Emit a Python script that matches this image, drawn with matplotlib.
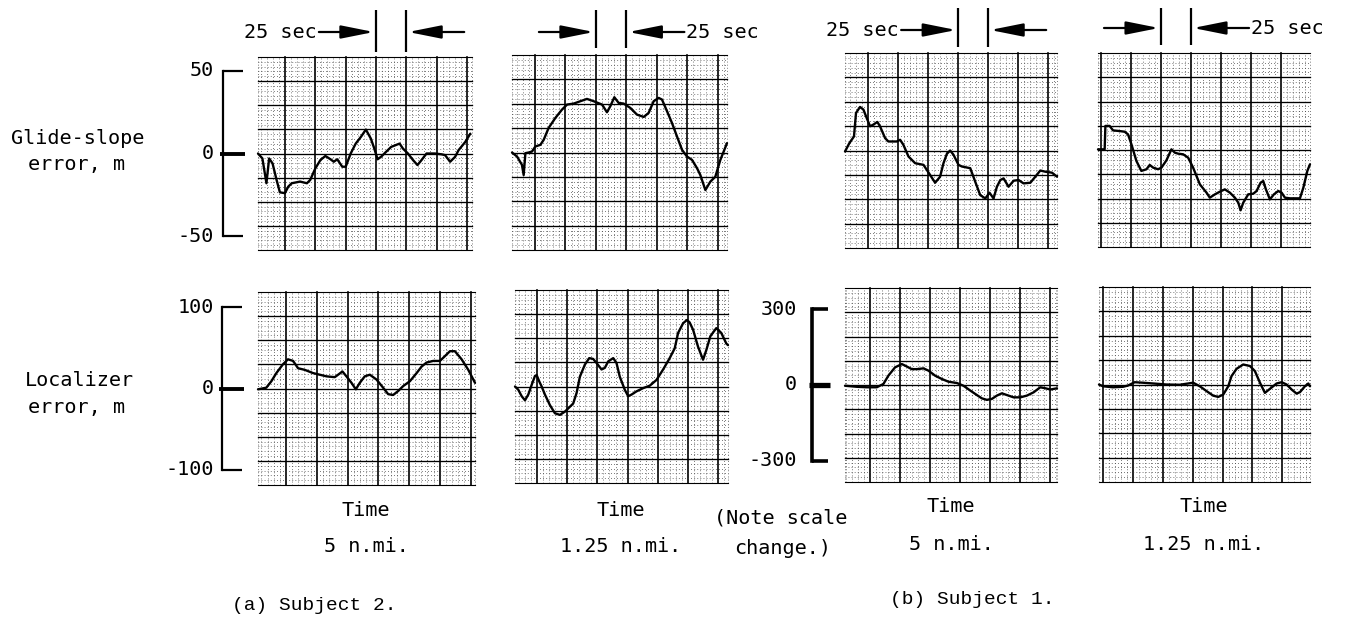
import matplotlib
matplotlib.use("Agg")
import matplotlib.pyplot as plt
import matplotlib.transforms as mtransforms
from matplotlib.patches import FancyArrowPatch, ArrowStyle
import numpy as np

# ---------------- data (time in s, error in m) ----------------
# (a) Subject 2 - glide-slope error, 5 n.mi.
gs_s2_5nmi_t = [0, 3.6, 6.9, 9.1, 11.9, 15.2, 17.9, 22.0, 24.8, 27.6, 34.4, 40.0, 42.7, 46.9, 51.0,
                55.1, 59.3, 62.0, 64.8, 68.9, 71.7, 75.8, 79.9, 84.1, 88.2, 92.3, 95.1, 97.8, 100.6,
                104.7, 108.9, 115.8, 118.5, 122.6, 126.8, 130.4, 133.7, 137.8, 144.7, 150.2, 153.0,
                157.1, 161.2, 164.0, 169.5, 173.6]
gs_s2_5nmi_m = [0, -3, -18, -3, -6, -16, -23.5, -24, -20, -18, -17, -18, -16, -9, -4,
                -1.5, -3.5, -5, -3.5, -8, -8, 0, 6, 10, 14.5, 9, 3, -3.5, -2,
                1, 4, 6, 3, 0, -4, -7, -4, 0, 0, -0.5, -1,
                -5, -2, 2, 7, 12]
# (a) Subject 2 - glide-slope error, 1.25 n.mi.
gs_s2_125nmi_t = [0, 4.1, 8.1, 9.5, 10.9, 13.6, 16.3, 19.0, 23.1, 25.8, 29.8, 35.3, 40.7, 44.8, 50.2,
                  55.6, 61.0, 66.5, 73.3, 77.3, 80.0, 83.3, 86.8, 90.9, 96.3, 101.7, 107.2, 111.2,
                  115.3, 119.4, 122.1, 126.2, 130.2, 134.3, 138.4, 142.4, 146.5, 150.6, 153.3,
                  157.4, 161.4, 165.5, 169.6, 175]
gs_s2_125nmi_m = [0, -2.4, -7.4, -13.5, -0.4, 0, 0.6, 3.6, 4.6, 7.6, 14.7, 20.7, 25.7, 28.7, 29.3,
                  30.7, 32.1, 30.7, 28.7, 24.1, 27.7, 33.1, 29.7, 29.3, 26.7, 22.7, 21.3, 23.7,
                  30.7, 32.7, 31.7, 24.7, 17.7, 9.6, 1.6, -2.4, -4.4, -9.4, -13.5,
                  -22.5, -17.5, -14.5, -4.4, 5.6]
# (b) Subject 1 - glide-slope error, 5 n.mi.
gs_s1_5nmi_t = [0, 3.6, 7.4, 9.1, 12.4, 15.2, 17.9, 20.7, 23.4, 26.7, 28.9, 33.1, 35.8, 42.7, 45.5,
                48.2, 52.4, 57.9, 64.8, 70.3, 74.4, 78.5, 81.3, 84.1, 86.8, 89.6, 93.7, 96.5, 103.4,
                107.5, 111.6, 115.8, 119.3, 122.6, 125.4, 128.2, 130.9, 135.0, 139.2, 143.3, 147.4,
                153.0, 157.1, 161.2, 165.4, 170.9, 175]
gs_s1_5nmi_m = [-0.6, 4.4, 8.4, 22.5, 26.1, 24.5, 19.5, 14.5, 15.5, 17.1, 14.5, 7.4, 5.4, 5.4, 6.4,
                3.4, -3.6, -7.6, -8.6, -14.7, -19.3, -15.7, -7.6, -2.0, 0, -2.6, -8.6, -9.6, -10.6,
                -18.7, -26.7, -28.7, -25.3, -28.7, -21.7, -17.7, -16.7, -21.7, -18.1, -17.7, -19.7,
                -19.3, -15.7, -12.0, -12.7, -13.3, -15.7]
# (b) Subject 1 - glide-slope error, 1.25 n.mi.
gs_s1_125nmi_t = [0, 5.5, 6.1, 9.6, 12.4, 17.9, 22.0, 24.8, 27.6, 31.7, 35.8, 40.0, 42.7, 45.5, 49.6,
                  52.4, 56.5, 60.6, 63.4, 66.1, 70.3, 74.4, 78.5, 84.1, 89.6, 92.3, 96.5, 100.6,
                  104.7, 108.9, 113.0, 115.8, 117.7, 119.9, 124.0, 128.2, 130.9, 134.2, 136.4,
                  138.6, 141.9, 145.2, 148.8, 151.6, 154.3, 158.5, 166.7, 169.5, 172.8, 175]
gs_s1_125nmi_m = [0.4, 0.4, 14.5, 14.5, 11.8, 11.4, 11.0, 9.4, 3.4, -6.6, -12.6, -11.6, -9.0, -10.6,
                  -11.6, -10.6, -6.2, 0.4, -1.6, -2.2, -2.6, -4.6, -10.6, -20.7, -25.7, -28.7,
                  -26.7, -25.1, -23.7, -25.7, -28.7, -31.7, -36.3, -31.7, -26.7, -26.3, -24.7,
                  -19.7, -18.7, -23.7, -29.7, -26.7, -24.7, -25.7, -28.7, -29.1, -29.1, -22.7,
                  -12.6, -8.6]
# (a) Subject 2 - localizer error, 5 n.mi.
loc_s2_5nmi_t = [0, 6.7, 10.8, 14.8, 20.2, 24.2, 28.3, 32.3, 37.7, 44.4, 49.8, 55.2, 61.9, 64.6, 68.1,
                 71.3, 75.4, 78.9, 82.1, 86.1, 90.2, 95.6, 100.9, 105.0, 109.0, 113.1, 117.1, 122.5,
                 127.9, 131.9, 135.9, 141.3, 146.7, 150.8, 154.8, 158.8, 164.2, 169.6, 175]
loc_s2_5nmi_m = [-1, 1, 9, 19, 30, 36, 34, 25, 23, 19, 17, 15, 14, 17, 21,
                 15, 7, -1, 7, 15, 17, 11, 1, -7, -8, -3, 3, 9,
                 19, 27, 32, 34, 34, 40, 46, 46, 36, 23, 7]
# (a) Subject 2 - localizer error, 1.25 n.mi.
loc_s2_125nmi_t = [0, 2.7, 5.5, 8.2, 10.9, 13.7, 16.4, 17.8, 20.0, 21.9, 24.6, 28.7, 32.8, 36.9, 41.0,
                   45.1, 47.8, 50.6, 53.3, 57.4, 61.0, 64.2, 67.0, 71.1, 73.8, 76.6, 80.7, 83.4,
                   86.1, 90.2, 93.0, 95.7, 99.8, 105.3, 110.7, 116.2, 121.7, 127.1, 131.2, 134.0,
                   138.1, 141.3, 143.5, 146.3, 150.4, 154.5, 157.2, 160.5, 165.4, 169.5, 173.6, 175]
loc_s2_125nmi_m = [0, -4, -12, -17, -10, 2, 13, 14, 6, 0, -10, -23, -33, -35, -31,
                   -25, -21, -8, 12, 27, 35, 34, 29, 21, 23, 31, 35, 29,
                   12, -4, -12, -10, -6, -2, 1, 8, 21, 35, 47, 66,
                   78, 82, 79, 70, 49, 33, 45, 62, 72, 66, 53, 51]
# (b) Subject 1 - localizer error, 5 n.mi.
loc_s1_5nmi_t = [0, 9.6, 17.9, 26.2, 31.7, 35.8, 41.3, 46.9, 49.6, 55.1, 59.3, 64.8, 68.9, 74.4, 79.9,
                 85.4, 92.3, 97.8, 103.4, 108.9, 113.0, 117.1, 121.3, 125.4, 129.5, 133.7, 139.2,
                 144.7, 150.2, 155.7, 161.2, 165.4, 169.5, 175]
loc_s1_5nmi_m = [-3, -7, -9, -9, 4, 37, 70, 83, 77, 63, 63, 66, 57, 37, 24,
                 13, 8, -3, -22, -40, -53, -59, -55, -42, -33, -40, -49,
                 -49, -42, -29, -9, -13, -18, -13]
# (b) Subject 1 - localizer error, 1.25 n.mi.
loc_s1_125nmi_t = [0, 3.3, 11.6, 19.9, 24.1, 29.6, 36.6, 44.9, 55.9, 67.0, 78.1, 83.6, 89.2, 94.7, 98.9,
                   103.0, 107.2, 109.9, 114.1, 119.6, 125.2, 129.3, 133.5, 137.6, 141.8, 147.3,
                   151.5, 155.6, 159.8, 163.9, 166.7, 170.8, 173.6, 175]
loc_s1_125nmi_m = [0, -7, -11, -9, -4, 9, 7, 4, 0, -1, 7, -7, -26, -44, -49,
                   -40, -7, 33, 62, 79, 73, 53, 7, -33, -17, 4,
                   9, 0, -20, -36, -30, -7, 4, -7]

gs_scale_values = [50, 0, -50]
gs_scale_labels = ["50", "0", "-50"]
loc_s2_scale_values = [100, 0, -100]
loc_s2_scale_labels = ["100", "0", "-100"]
loc_s1_scale_values = [300, 0, -300]
loc_s1_scale_labels = ["300", "0", "-300"]
range_labels = ["5 n.mi.", "1.25 n.mi.", "5 n.mi.", "1.25 n.mi."]
interval_label = "25 sec"

# ---------------- layout ----------------
W, H, DPI = 1347, 623, 100
fig = plt.figure(figsize=(W / DPI, H / DPI), dpi=DPI)
fig.patch.set_facecolor("white")

MONO = "DejaVu Sans Mono"
TYPE = "Liberation Mono"
FS = 14.5
SPAN = 175.0     # seconds shown per strip
SP = 24.8        # major time-grid spacing (= 25 sec mark)


def fx(px):
    return px / W


def fy(py):
    return 1 - py / H


def panel(box, t, m, lim, off):
    l, tp, r, b = box
    ax = fig.add_axes([fx(l), fy(b), fx(r) - fx(l), fy(tp) - fy(b)])
    ax.set_xlim(0, SPAN)
    ax.set_ylim(-lim, lim)
    ax.axis("off")
    dot = dict(color="#3a3a3a", lw=0.6, ls=(0, (0.9, 2.8)), clip_on=False)
    start = off - SP * np.ceil(off / SP)
    xs = np.arange(start, SPAN + 0.01, SP / 5)
    for i, x in enumerate(xs):
        if x < 0.6 or x > SPAN - 0.6:
            continue
        if i % 5 == 0:
            ax.axvline(x, color="k", lw=1.2, clip_on=False)
        else:
            ax.axvline(x, **dot)
    ax.axvline(0, **dot)
    ax.axvline(SPAN, **dot)
    for k in range(41):
        y = -lim + 2 * lim * k / 40
        if k % 5 == 0:
            ax.axhline(y, color="k", lw=0.95 if k not in (0, 40) else 0.8, clip_on=False)
        else:
            ax.axhline(y, **dot)
    ax.plot(t, m, color="k", lw=1.7, solid_joinstyle="round", solid_capstyle="round",
            zorder=5, clip_on=False)
    return ax


def scale_bracket(ax, x_px, tick_px, values, labels, label_right_px, lw):
    tr = mtransforms.blended_transform_factory(fig.transFigure, ax.transData)
    ax.plot([fx(x_px)] * 2, [values[0], values[-1]], transform=tr, color="k", lw=lw,
            clip_on=False, solid_capstyle="projecting")
    for v, lab in zip(values, labels):
        if v == 0:
            ax.plot([fx(x_px - 3), fx(x_px + tick_px + 2)], [v, v], transform=tr, color="k",
                    lw=lw + 1.2, clip_on=False, solid_capstyle="butt")
        else:
            ax.plot([fx(x_px), fx(x_px + tick_px)], [v, v], transform=tr, color="k",
                    lw=lw, clip_on=False, solid_capstyle="butt")
        ax.text(fx(label_right_px), v, lab, transform=tr, ha="right", va="center",
                fontsize=FS, family=MONO)


def interval_mark(ax, off, k, y_px, bar_top, bar_bot, text_left):
    x1 = off + SP * k
    x2 = x1 + SP
    p1 = ax.transData.transform((x1, 0))[0]
    p2 = ax.transData.transform((x2, 0))[0]
    trb = mtransforms.blended_transform_factory(ax.transData, fig.transFigure)
    for xx in (x1, x2):
        ax.plot([xx, xx], [fy(bar_top), fy(bar_bot)], transform=trb, color="k", lw=1.6,
                clip_on=False, solid_capstyle="butt")
    style = ArrowStyle("-|>", head_length=2.0, head_width=0.4)
    a1 = FancyArrowPatch((fx(p1 - 57), fy(y_px)), (fx(p1 - 2), fy(y_px)), transform=fig.transFigure,
                         arrowstyle=style, mutation_scale=10, lw=1.6, color="k",
                         shrinkA=0, shrinkB=0)
    a2 = FancyArrowPatch((fx(p2 + 58), fy(y_px)), (fx(p2 + 2), fy(y_px)), transform=fig.transFigure,
                         arrowstyle=style, mutation_scale=10, lw=1.6, color="k",
                         shrinkA=0, shrinkB=0)
    fig.add_artist(a1)
    fig.add_artist(a2)
    if text_left:
        fig.text(fx(p1 - 59), fy(y_px), interval_label, ha="right", va="center",
                 fontsize=FS, family=MONO)
    else:
        fig.text(fx(p2 + 60), fy(y_px), interval_label, ha="left", va="center",
                 fontsize=FS, family=MONO)


GS_LIM = 58.4
LOC_S2_LIM = 119.0
LOC_S1_LIM = 385.0

axA1 = panel((258, 57, 472, 250), gs_s2_5nmi_t, gs_s2_5nmi_m, GS_LIM, 22.0)
axA2 = panel((512, 55, 727, 250), gs_s2_125nmi_t, gs_s2_125nmi_m, GS_LIM, 18.7)
axB1 = panel((845, 53, 1057, 248), gs_s1_5nmi_t, gs_s1_5nmi_m, GS_LIM, 19.0)
axB2 = panel((1098, 53, 1310, 247), gs_s1_125nmi_t, gs_s1_125nmi_m, GS_LIM, 2.4)
axA3 = panel((258, 292, 475, 485), loc_s2_5nmi_t, loc_s2_5nmi_m, LOC_S2_LIM, 22.6)
axA4 = panel((515, 290, 728, 483), loc_s2_125nmi_t, loc_s2_125nmi_m, LOC_S2_LIM, 18.1)
axB3 = panel((845, 288, 1057, 482), loc_s1_5nmi_t, loc_s1_5nmi_m, LOC_S1_LIM, 20.6)
axB4 = panel((1099, 287, 1310, 482), loc_s1_125nmi_t, loc_s1_125nmi_m, LOC_S1_LIM, 3.3)

scale_bracket(axA1, 223, 20, gs_scale_values, gs_scale_labels, 214, 1.6)
scale_bracket(axA3, 222, 20, loc_s2_scale_values, loc_s2_scale_labels, 214, 1.6)
scale_bracket(axB3, 812, 16, loc_s1_scale_values, loc_s1_scale_labels, 797, 2.6)

interval_mark(axA1, 22.0, 3, 32, 10, 52, True)
interval_mark(axA2, 18.7, 2, 32, 10, 48, False)
interval_mark(axB1, 19.0, 3, 30, 8, 47, True)
interval_mark(axB2, 2.4, 2, 28, 8, 45, False)

# axis titles
fig.text(fx(78), fy(139), "Glide-slope", ha="center", va="center", fontsize=FS, family=MONO)
fig.text(fx(77), fy(165), "error, m", ha="center", va="center", fontsize=FS, family=MONO)
fig.text(fx(79), fy(380), "Localizer", ha="center", va="center", fontsize=FS, family=MONO)
fig.text(fx(77), fy(407), "error, m", ha="center", va="center", fontsize=FS, family=MONO)

# bottom labels
centers = [366, 621, 951, 1204]
time_y = [510, 510, 506, 506]
rng_y = [547, 547, 545, 545]
for cx, ty, ry, lab in zip(centers, time_y, rng_y, range_labels):
    fig.text(fx(cx), fy(ty), "Time", ha="center", va="center", fontsize=FS, family=MONO)
    fig.text(fx(cx), fy(ry), lab, ha="center", va="center", fontsize=FS, family=MONO)

fig.text(fx(781), fy(518), "(Note scale", ha="center", va="center", fontsize=FS, family=MONO)
fig.text(fx(783), fy(549), "change.)", ha="center", va="center", fontsize=FS, family=MONO)

fig.text(fx(232), fy(605), "(a) Subject 2.", ha="left", va="center", fontsize=14, family=TYPE)
fig.text(fx(890), fy(600), "(b) Subject 1.", ha="left", va="center", fontsize=14, family=TYPE)

fig.savefig("out.png", dpi=DPI, facecolor="white")
